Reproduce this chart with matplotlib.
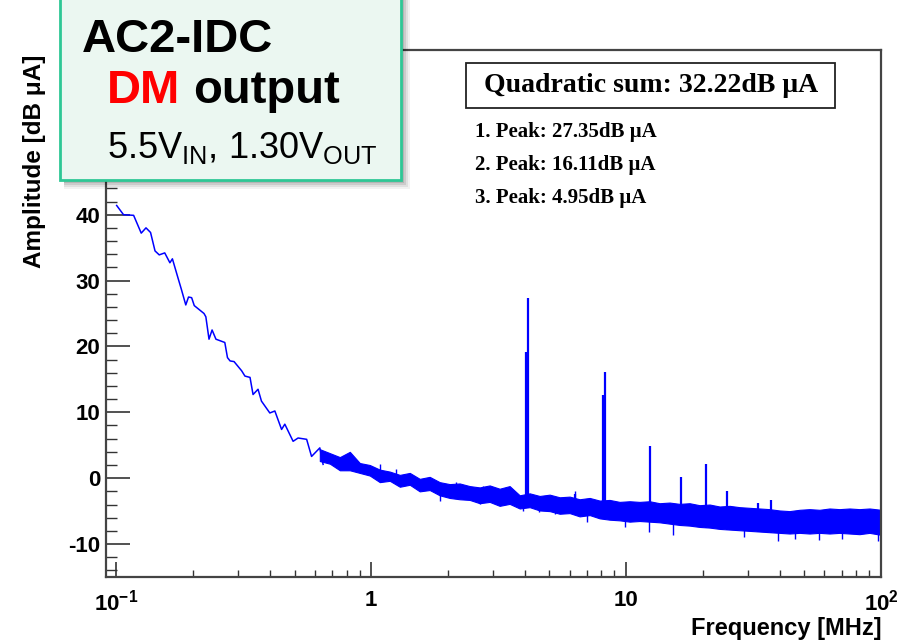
import numpy as np
import matplotlib
matplotlib.use("Agg")
import matplotlib.pyplot as plt
from matplotlib.patches import Rectangle
from matplotlib.ticker import LogLocator, MultipleLocator, NullFormatter

plt.rcParams['font.family'] = ['Liberation Sans', 'DejaVu Sans']
plt.rcParams['axes.unicode_minus'] = False
plt.rcParams['mathtext.fontset'] = 'custom'
plt.rcParams['mathtext.rm'] = 'Liberation Sans'
plt.rcParams['mathtext.bf'] = 'Liberation Sans:bold'

# low-frequency part of the spectrum (thin line), MHz / dBuA
curve_f = [0.1002, 0.1066, 0.1168, 0.1251, 0.1306, 0.1361, 0.1417, 0.1472, 0.1547, 0.1621,
           0.1658, 0.1750, 0.1797, 0.1871, 0.1918, 0.1973, 0.2020, 0.2206, 0.2243, 0.2308,
           0.2373, 0.2457, 0.2662, 0.2727, 0.2792, 0.2894, 0.3100, 0.3193, 0.3343, 0.3436,
           0.3594, 0.3707, 0.3998, 0.4184, 0.4446, 0.4578, 0.4934, 0.5161, 0.5576, 0.5829,
           0.6281, 0.6469]
curve_db = [41.4, 40.0, 39.9, 37.2, 38.0, 37.3, 34.5, 33.9, 34.2, 32.7,
            33.3, 30.2, 28.7, 26.3, 27.5, 27.4, 26.2, 25.0, 24.5, 21.1,
            22.5, 21.1, 20.6, 18.3, 17.8, 17.7, 16.3, 15.5, 15.3, 12.7,
            13.5, 11.7, 9.9, 10.2, 7.4, 8.2, 5.6, 6.1, 5.9, 3.3,
            4.6, 2.1]

# noise floor band (upper / lower envelope)
band_f = [0.6281, 0.6878, 0.7527, 0.8237, 0.9014, 0.9865, 1.080, 1.182, 1.294, 1.416,
          1.549, 1.695, 1.855, 2.031, 2.223, 2.433, 2.663, 2.914, 3.189, 3.490,
          3.822, 4.183, 4.578, 5.012, 5.485, 6.003, 6.569, 7.193, 7.872, 8.615,
          9.428, 10.32, 11.29, 12.36, 13.53, 14.81, 16.21, 17.74, 19.41, 21.26,
          23.27, 25.47, 27.87, 30.50, 33.38, 36.53, 39.99, 43.77, 47.90, 52.43,
          57.38, 62.80, 68.74, 75.23, 82.33, 90.12, 100.0]
band_hi = [4.4, 3.8, 3.2, 4.0, 2.3, 2.0, 1.3, 1.0, 0.5, 0.8,
           -0.1, 0.2, -0.6, -0.9, -0.8, -1.2, -1.4, -1.1, -1.6, -1.2,
           -2.6, -2.3, -2.7, -2.5, -2.9, -2.8, -3.2, -3.0, -3.4, -3.3,
           -3.6, -3.5, -3.6, -3.5, -3.8, -3.7, -3.9, -3.8, -4.1, -4.0,
           -4.3, -4.2, -4.4, -4.5, -4.6, -4.7, -4.9, -5.0, -4.8, -4.7,
           -4.8, -4.6, -4.7, -4.6, -4.7, -4.6, -4.8]
band_lo = [2.6, 2.2, 1.2, 1.2, 0.8, 0.4, -0.6, -0.4, -1.3, -1.0,
           -2.0, -1.8, -2.6, -3.0, -3.2, -3.3, -3.8, -3.6, -4.2, -3.9,
           -4.6, -4.4, -4.9, -5.0, -5.4, -5.3, -5.8, -5.6, -6.1, -6.3,
           -6.4, -6.6, -6.5, -6.6, -6.7, -6.9, -7.1, -7.2, -7.4, -7.5,
           -7.7, -7.8, -7.9, -8.0, -8.1, -8.2, -8.3, -8.4, -8.3, -8.4,
           -8.3, -8.4, -8.3, -8.4, -8.5, -8.3, -8.6]

# single noise excursions sticking out of the band
noise_f = [1.080, 1.255, 1.855, 2.158, 2.663, 2.737, 3.93, 4.54, 5.24, 6.28,
           7.00, 9.90, 12.31, 15.22, 20.08, 29.0, 39.27, 46.0, 56.86, 70.0, 96.9]
noise_lo = [0.0, -0.5, -3.5, -2.0, -3.9, -2.5, -5.0, -5.1, -5.5, -4.0,
            -6.6, -7.4, -8.2, -8.7, -6.0, -9.0, -9.5, -9.2, -9.4, -9.2, -9.5]
noise_hi = [2.2, 1.4, -1.0, -0.6, -2.0, -1.2, -3.0, -3.0, -3.5, -1.9,
            -4.0, -4.5, -5.0, -5.5, -4.1, -6.0, -6.5, -6.5, -6.5, -6.5, -6.5]

# harmonic peaks
peak_f = [4.06, 4.12, 6.30, 8.11, 8.24, 12.4, 16.4, 20.5, 24.8, 32.8, 37.0]
peak_db = [19.2, 27.35, -2.4, 12.6, 16.11, 4.95, 0.2, 2.1, -2.0, -3.7, -3.3]
peak_base = [-4.5, -4.5, -5.4, -5.8, -5.8, -6.6, -7.1, -7.5, -7.8, -8.1, -8.3]

peak_text = ["1. Peak: 27.35dB \u03bcA", "2. Peak: 16.11dB \u03bcA", "3. Peak: 4.95dB \u03bcA"]
sum_text = "Quadratic sum: 32.22dB \u03bcA"

W, H = 900, 643
fig = plt.figure(figsize=(9, 6.43), dpi=100)


def fx(px):
    return px / W


def fy(py):
    return 1 - py / H


ax = fig.add_axes([fx(106), fy(577), fx(881) - fx(106), fy(50) - fy(577)])
blue = '#0000ff'
ax.plot(curve_f, curve_db, color=blue, lw=1.1)
ax.fill_between(band_f, band_lo, band_hi, color=blue, lw=0.8)
ax.vlines(noise_f, noise_lo, noise_hi, color=blue, lw=1.0)
ax.vlines(peak_f, peak_base, peak_db, color=blue, lw=1.6)

ax.set_xscale('log')
ax.set_xlim(0.091, 100)
ax.set_ylim(-15, 65)
ax.set_xticks([0.1, 1, 10, 100])
ax.set_xticklabels([r'$\mathbf{10^{-1}}$', '1', '10', r'$\mathbf{10^{2}}$'])
ax.xaxis.set_minor_locator(LogLocator(base=10, subs=np.arange(2, 10)))
ax.xaxis.set_minor_formatter(NullFormatter())
ax.set_yticks(range(-10, 70, 10))
ax.yaxis.set_minor_locator(MultipleLocator(2))

for lab in ax.get_xticklabels() + ax.get_yticklabels():
    lab.set_fontweight('bold')
ax.tick_params(axis='x', which='major', direction='in', length=11, width=1.2,
               labelsize=16, pad=9, colors='#333333', labelcolor='black')
ax.tick_params(axis='x', which='minor', direction='in', length=5, width=1.0, colors='#333333')
ax.tick_params(axis='y', which='major', direction='in', length=17, width=1.2,
               labelsize=16, pad=4, colors='#333333', labelcolor='black')
ax.tick_params(axis='y', which='minor', direction='in', length=8, width=1.0, colors='#333333')
for s in ax.spines.values():
    s.set_color('#444444')
    s.set_linewidth(1.6)

fig.text(fx(35), fy(268), 'Amplitude [dB \u03bcA]', rotation=90, ha='center', va='bottom',
         fontsize=17.5, fontweight='bold')
fig.text(fx(882), fy(629), 'Frequency [MHz]', ha='right', va='center',
         fontsize=17, fontweight='bold')

# quadratic sum box
fig.patches.append(Rectangle((fx(466), fy(108)), fx(835) - fx(466), fy(63) - fy(108),
                             transform=fig.transFigure, facecolor='white',
                             edgecolor='#222222', lw=1.3))
fig.text(fx(651), fy(86), sum_text, ha='center', va='center', fontsize=20,
         fontweight='bold', family=['Liberation Serif', 'DejaVu Serif'])
for i, t in enumerate(peak_text):
    fig.text(fx(475), fy(137 + 33 * i), t, ha='left', va='baseline', fontsize=15,
             fontweight='bold', family=['Liberation Serif', 'DejaVu Serif'])

# title box with shadow
bx0, bx1, by0, by1 = 60, 401, -5, 180
for k, a in zip(range(9, 0, -2), [0.05, 0.07, 0.09, 0.11, 0.13]):
    fig.patches.append(Rectangle((fx(bx0 + 4), fy(by1 + k)), fx(bx1 + k) - fx(bx0 + 4),
                                 fy(by0) - fy(by1 + k), transform=fig.transFigure,
                                 facecolor='black', alpha=a, lw=0))
fig.patches.append(Rectangle((fx(bx0), fy(by1)), fx(bx1) - fx(bx0), fy(by0) - fy(by1),
                             transform=fig.transFigure, facecolor='#ebf7f1',
                             edgecolor='#2ec795', lw=2))
fig.text(fx(82), fy(52), 'AC2-IDC', fontsize=34, fontweight='bold', va='baseline')
fig.text(fx(107), fy(103), 'DM', fontsize=34, fontweight='bold', color='#ff0000', va='baseline')
fig.text(fx(193), fy(103), 'output', fontsize=34, fontweight='bold', va='baseline')
fig.text(fx(107), fy(158), r'5.5V$_{\mathrm{IN}}$, 1.30V$_{\mathrm{OUT}}$', fontsize=26,
         va='baseline')

fig.savefig('out.png', dpi=100)
